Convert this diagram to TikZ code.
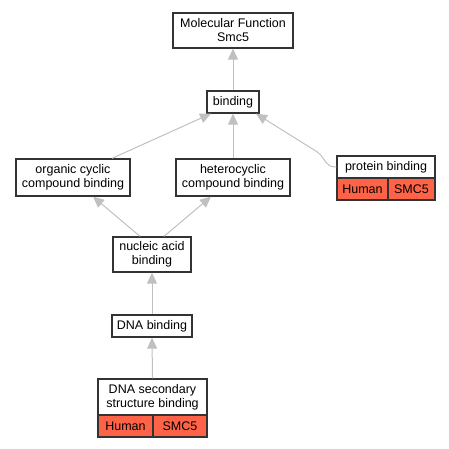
\documentclass[tikz,border=0pt]{standalone}
\usepackage{fontspec}
\setmainfont{Liberation Sans}
\usetikzlibrary{arrows.meta}
\definecolor{edgegray}{HTML}{C0C0C0}
\definecolor{cellred}{HTML}{FF6347}
\definecolor{boxline}{HTML}{333333}
\begin{document}
\begin{tikzpicture}[x=1pt,y=-1pt,
  box/.style={draw=boxline, line width=1.3pt, inner sep=0pt, align=center,
    font=\fontsize{12.5}{14}\selectfont, fill=white, text=black},
  cell/.style={box, fill=cellred},
  edge/.style={draw=edgegray, line width=1pt, -{Triangle[length=11pt,width=10pt]}}]
\useasboundingbox (0,0) rectangle (449,448);
% nodes
\node[box, minimum width=120pt, minimum height=35pt] (mf) at (233,30.5) {Molecular Function\\Smc5};
\node[box, minimum width=52pt, minimum height=22pt] (bind) at (233,102) {binding};
\node[box, minimum width=114pt, minimum height=37pt] (org) at (73,177.5) {organic cyclic\\compound binding};
\node[box, minimum width=114pt, minimum height=37pt] (het) at (233,177.5) {heterocyclic\\compound binding};
\node[box, minimum width=98pt, minimum height=22pt] (prot) at (386,167) {protein binding};
\node[cell, minimum width=51pt, minimum height=22pt] (protH) at (362.5,189) {Human};
\node[cell, minimum width=47pt, minimum height=22pt] (protS) at (411.5,189) {SMC5};
\node[box, minimum width=78pt, minimum height=35pt] (nuc) at (152,254.5) {nucleic acid\\binding};
\node[box, minimum width=80pt, minimum height=22pt] (dna) at (152,326) {DNA binding};
\node[box, minimum width=109pt, minimum height=36pt] (sec) at (152.5,397) {DNA secondary\\structure binding};
\node[cell, minimum width=55pt, minimum height=22pt] (secH) at (125.5,426) {Human};
\node[cell, minimum width=54pt, minimum height=22pt] (secS) at (180,426) {SMC5};
% edges
\draw[edge] (bind.north) -- (mf.south);
\draw[edge] ([xshift=39pt]org.north) -- ([xshift=-22pt]bind.south);
\draw[edge] (het.north) -- (bind.south);
\coordinate (pc1) at ([xshift=-12pt]prot.west);
\coordinate (pc2) at ([xshift=-10pt,yshift=8pt]prot.west);
\coordinate (pc3) at ([xshift=-19pt,yshift=15pt]prot.west);
\draw[edge] (prot.west) .. controls (pc1) and (pc2) .. (pc3) -- ([xshift=23pt]bind.south);
\draw[edge] ([xshift=-12pt]nuc.north) -- ([xshift=20pt]org.south);
\draw[edge] ([xshift=12pt]nuc.north) -- ([xshift=-22pt]het.south);
\draw[edge] (dna.north) -- (nuc.south);
\draw[edge] (sec.north) -- (dna.south);
\end{tikzpicture}
\end{document}
